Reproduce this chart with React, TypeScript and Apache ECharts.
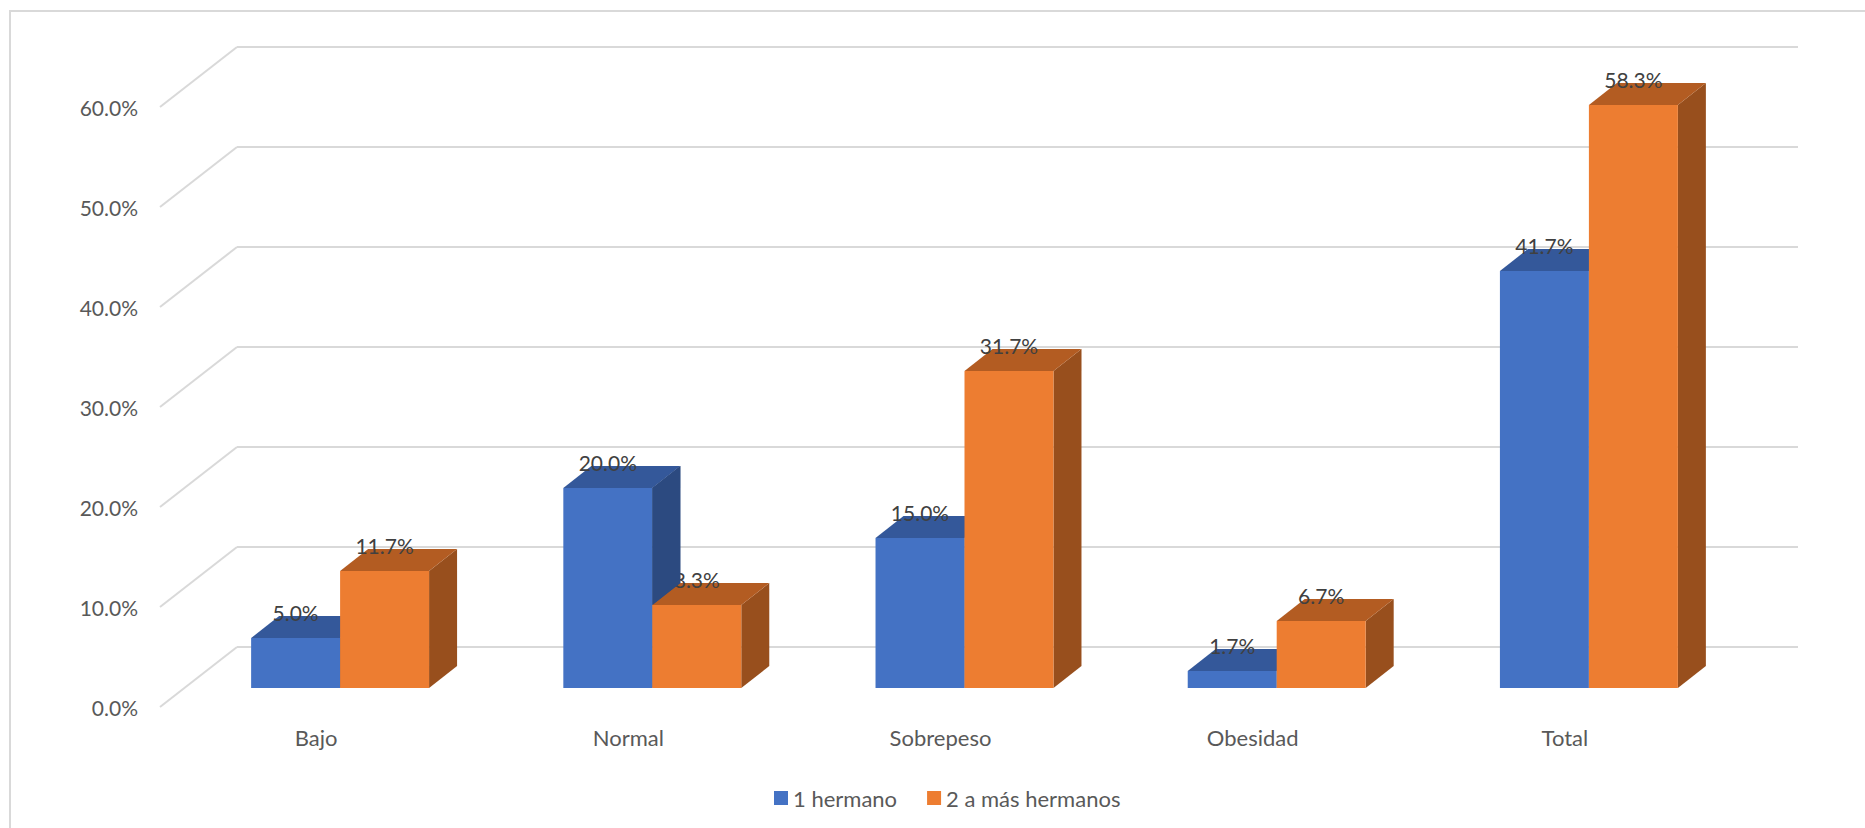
import React, { useEffect, useRef } from "react";
import * as echarts from "echarts";

const categories = ["Bajo", "Normal", "Sobrepeso", "Obesidad", "Total"];
const unHermano = [5.0, 20.0, 15.0, 1.7, 41.7];
const dosOMasHermanos = [11.7, 8.3, 31.7, 6.7, 58.3];
const yTicks = [0, 10, 20, 30, 40, 50, 60];
const seriesNames = ["1 hermano", "2 a más hermanos"];

const FONT = "Lato, 'Open Sans', sans-serif";
const BLUE = { front: "#4472C4", top: "#34589A", side: "#2C4A80" };
const ORANGE = { front: "#ED7D31", top: "#B35C22", side: "#984F1D" };
const GRID_COLOR = "#d9d9d9";

// layout (pixels)
const FLOOR_DX = 77; // depth of floor
const FLOOR_DY = 60;
const BAR_DX = 28; // depth of a bar
const BAR_DY = 22;
const BAR_RATIO = 0.285;
const PLOT_W = 1561;
const PLOT_H = 600;

const fmt = (v: number) => v.toFixed(1) + "%";

function barRenderer(left: boolean, c: { front: string; top: string; side: string }) {
  return (params: any, api: any) => {
    const i = api.value(0);
    const v = api.value(1);
    const top = api.coord([i, v]);
    const base = api.coord([i, 0]);
    const band = api.size([1, 0])[0];
    const w = band * BAR_RATIO;
    const x0 = left ? top[0] - w : top[0];
    const x1 = x0 + w;
    const yT = top[1];
    const yB = base[1];
    return {
      type: "group",
      children: [
        {
          type: "polygon",
          shape: { points: [[x1, yT], [x1 + BAR_DX, yT - BAR_DY], [x1 + BAR_DX, yB - BAR_DY], [x1, yB]] },
          style: { fill: c.side },
        },
        {
          type: "polygon",
          shape: { points: [[x0, yT], [x1, yT], [x1 + BAR_DX, yT - BAR_DY], [x0 + BAR_DX, yT - BAR_DY]] },
          style: { fill: c.top },
        },
        {
          type: "rect",
          shape: { x: x0, y: yT, width: w, height: yB - yT },
          style: { fill: c.front },
        },
        {
          type: "text",
          x: (x0 + x1) / 2,
          y: yT - 26,
          style: {
            text: fmt(v),
            fill: "#404040",
            fontSize: 21,
            fontFamily: FONT,
            align: "center",
            verticalAlign: "middle",
          },
        },
      ],
    };
  };
}

export default function App() {
  const ref = useRef<HTMLDivElement>(null);

  useEffect(() => {
    document.body.style.margin = "0";
    const chart = echarts.init(ref.current!, null, { renderer: "svg" });
    const hiddenCat = {
      type: "category",
      data: categories,
      show: false,
    };
    const option: any = {
      animation: false,
      backgroundColor: "#ffffff",
      color: [BLUE.front, ORANGE.front],
      grid: [
        // bar front plane
        { left: 184, top: 88, width: PLOT_W, height: PLOT_H },
        // floor front edge (axis labels)
        { left: 160, top: 107, width: PLOT_W, height: PLOT_H },
        // back wall
        { left: 237, top: 47, width: PLOT_W, height: PLOT_H },
      ],
      xAxis: [
        { ...hiddenCat, gridIndex: 0 },
        {
          type: "category",
          data: categories,
          gridIndex: 1,
          axisLine: { show: false },
          axisTick: { show: false },
          axisLabel: { color: "#595959", fontSize: 22, fontFamily: FONT, margin: 19 },
        },
        { ...hiddenCat, gridIndex: 2 },
      ],
      yAxis: [
        { type: "value", gridIndex: 0, min: 0, max: 60, interval: 10, show: false },
        {
          type: "value",
          gridIndex: 1,
          min: 0,
          max: 60,
          interval: 10,
          axisLine: { show: false },
          axisTick: { show: false },
          splitLine: { show: false },
          axisLabel: { color: "#595959", fontSize: 21, fontFamily: FONT, margin: 22, formatter: fmt },
        },
        {
          type: "value",
          gridIndex: 2,
          min: 0,
          max: 60,
          interval: 10,
          axisLine: { show: false },
          axisTick: { show: false },
          axisLabel: { show: false },
          splitLine: { show: true, lineStyle: { color: GRID_COLOR, width: 2 } },
        },
      ],
      legend: {
        data: seriesNames,
        left: 774,
        top: 787,
        padding: 0,
        itemWidth: 14,
        itemHeight: 14,
        itemGap: 30,
        icon: "rect",
        textStyle: { color: "#595959", fontSize: 22, fontFamily: FONT },
      },
      graphic: [
        {
          type: "rect",
          shape: { x: 10, y: 11, width: 1900, height: 900 },
          style: { fill: "none", stroke: GRID_COLOR, lineWidth: 2 },
          silent: true,
        },
      ],
      series: [
        {
          name: "floor",
          type: "custom",
          xAxisIndex: 1,
          yAxisIndex: 1,
          data: yTicks.map((t) => [0, t]),
          encode: { x: 0, y: 1 },
          silent: true,
          clip: false,
          renderItem: (params: any, api: any) => {
            const y = api.coord([0, api.value(1)])[1];
            const x = params.coordSys.x;
            return {
              type: "line",
              shape: { x1: x, y1: y, x2: x + FLOOR_DX, y2: y - FLOOR_DY },
              style: { stroke: GRID_COLOR, lineWidth: 2 },
            };
          },
        },
        {
          name: seriesNames[0],
          type: "custom",
          xAxisIndex: 0,
          yAxisIndex: 0,
          itemStyle: { color: BLUE.front },
          data: unHermano.map((v, i) => [i, v]),
          encode: { x: 0, y: 1 },
          clip: false,
          renderItem: barRenderer(true, BLUE),
        },
        {
          name: seriesNames[1],
          type: "custom",
          xAxisIndex: 0,
          yAxisIndex: 0,
          itemStyle: { color: ORANGE.front },
          data: dosOMasHermanos.map((v, i) => [i, v]),
          encode: { x: 0, y: 1 },
          clip: false,
          renderItem: barRenderer(false, ORANGE),
        },
        {
          name: "side-overlay",
          type: "custom",
          xAxisIndex: 0,
          yAxisIndex: 0,
          silent: true,
          data: unHermano.map((v, i) => [i, v, dosOMasHermanos[i]]),
          encode: { x: 0, y: 1 },
          clip: false,
          renderItem: (params: any, api: any) => {
            const i = api.value(0);
            const b = api.value(1);
            const o = api.value(2);
            if (b <= o) return { type: "group", children: [] };
            const pb = api.coord([i, b]);
            const po = api.coord([i, o]);
            const x1 = pb[0];
            return {
              type: "polygon",
              shape: {
                points: [
                  [x1, pb[1]],
                  [x1 + BAR_DX, pb[1] - BAR_DY],
                  [x1 + BAR_DX, po[1] - BAR_DY],
                  [x1, po[1]],
                ],
              },
              style: { fill: BLUE.side },
            };
          },
        },
      ],
    };
    chart.setOption(option);
    return () => chart.dispose();
  }, []);

  return <div ref={ref} style={{ width: 1865, height: 828 }} />;
}
